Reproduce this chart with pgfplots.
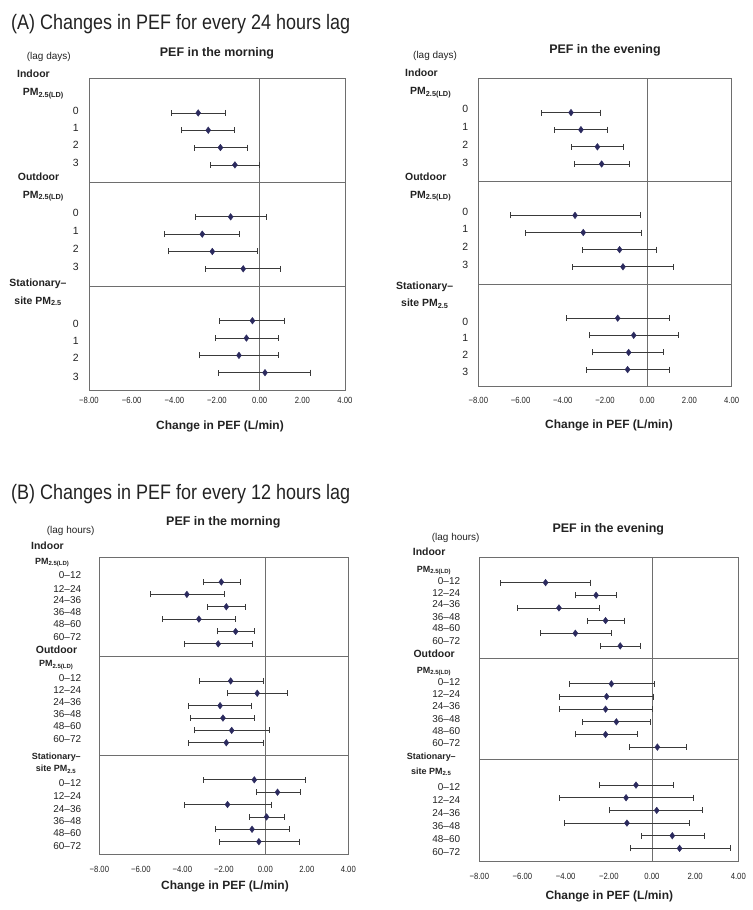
\documentclass[border=0pt]{standalone}
\usepackage{pgfplots}
\pgfplotsset{compat=1.18}
\usepackage{pgfplotstable}
\usepackage{fontspec}
\setmainfont{Liberation Sans}
\usepackage{graphicx}
\newcommand\fs[1]{\fontsize{#1}{#1}\selectfont}
\newcommand\sq[1]{\scalebox{0.86}[1]{#1}}
\definecolor{mk}{HTML}{2B2A5E}
\definecolor{eb}{HTML}{3A3A3A}
\definecolor{fr}{HTML}{6E6E6E}
\definecolor{tx}{HTML}{222222}

% y = row position, x = estimate, lo/hi = 95% CI
\pgfplotstableread{
y x lo hi
0 -2.88 -4.14 -1.59
1 -2.41 -3.67 -1.19
2 -1.84 -3.05 -0.59
3 -1.16 -2.33 -0.03
6 -1.36 -3.02 0.31
7 -2.69 -4.48 -0.94
8 -2.22 -4.28 -0.11
9 -0.77 -2.53 0.98
12 -0.34 -1.91 1.17
13 -0.62 -2.09 0.89
14 -0.97 -2.81 0.89
15 0.25 -1.94 2.39
}\AL
\pgfplotstableread{
y x lo hi
0 -3.61 -5.02 -2.22
1 -3.14 -4.38 -1.89
2 -2.36 -3.61 -1.12
3 -2.16 -3.45 -0.85
6 -3.42 -6.48 -0.33
7 -3.03 -5.77 -0.29
8 -1.31 -3.09 0.43
9 -1.15 -3.53 1.22
12 -1.40 -3.83 1.06
13 -0.64 -2.74 1.49
14 -0.88 -2.60 0.78
15 -0.93 -2.88 1.06
}\AR
\pgfplotstableread{
y x lo hi
0 -2.12 -3.00 -1.20
1 -3.78 -5.53 -1.96
2 -1.88 -2.81 -0.96
3 -3.20 -4.96 -1.43
4 -1.43 -2.33 -0.53
5 -2.27 -3.89 -0.61
8 -1.67 -3.18 -0.10
9 -0.39 -1.83 1.06
10 -2.18 -3.69 -0.67
11 -2.04 -3.60 -0.51
12 -1.62 -3.44 0.22
13 -1.88 -3.69 -0.08
16 -0.53 -2.99 1.93
17 0.59 -0.45 1.69
18 -1.82 -3.92 0.29
19 0.06 -0.79 0.93
20 -0.64 -2.39 1.16
21 -0.31 -2.22 1.62
}\BL
\pgfplotstableread{
y x lo hi
0 -4.93 -7.03 -2.86
1 -2.59 -3.55 -1.65
2 -4.31 -6.22 -2.44
3 -2.15 -3.01 -1.30
4 -3.55 -5.17 -1.88
5 -1.47 -2.38 -0.54
8 -1.88 -3.85 0.11
9 -2.10 -4.28 0.06
10 -2.15 -4.31 0.03
11 -1.65 -3.21 -0.08
12 -2.15 -3.55 -0.68
13 0.25 -1.07 1.59
16 -0.74 -2.44 0.97
17 -1.20 -4.31 1.90
18 0.22 -1.96 2.35
19 -1.16 -4.06 1.71
20 0.94 -0.51 2.42
21 1.28 -1.00 3.61
}\BR

\pgfplotsset{
 forest/.style={
  scale only axis, y dir=reverse, xmin=-8, xmax=4,
  axis line style={fr, line width=0.8bp},
  xtick={-8,-6,-4,-2,0,2,4},
  xticklabels={\sq{−8.00},\sq{−6.00},\sq{−4.00},\sq{−2.00},\sq{0.00},\sq{2.00},\sq{4.00}},
  major tick length=0pt,
  every tick/.style={draw=none},
  xticklabel style={font=\fs{9}, text=tx, anchor=center, inner sep=0pt},
  yticklabel style={font=\fs{10.5}, text=tx, anchor=mid east, inner sep=0pt, xshift=-10bp},
 },
 refline/.style={fr, line width=0.8bp, forget plot},
 ebplot/.style={only marks, mark=diamond*, mark size=3.3bp,
  mark options={fill=mk, draw=mk},
  error bars/x dir=both, error bars/x explicit,
  error bars/error bar style={eb, line width=0.75bp},
  error bars/error mark options={eb, line width=0.75bp, mark size=3bp, rotate=90}},
}
\newcommand\eb[1]{\addplot[ebplot] table[x=x, y=y,
  x error plus expr=\thisrow{hi}-\thisrow{x},
  x error minus expr=\thisrow{x}-\thisrow{lo}] {#1};}

\begin{document}
\begin{tikzpicture}[every node/.style={text=tx}]
\path[use as bounding box] (0,0) rectangle (753bp,-910bp);

% ---------- (A) left ----------
\begin{axis}[forest, at={(89bp,-78.3bp)}, anchor=north west,
  width=256bp, height=311.7bp, ymin=-2, ymax=16,
  ytick={-0.06,0.91,1.9,2.95,5.8,6.84,7.88,8.93,12.23,13.2,14.2,15.3},
  yticklabels={0,1,2,3,0,1,2,3,0,1,2,3},
  xticklabel style={yshift=-10bp}]
\addplot[refline] coordinates {(-8,4) (4,4)};
\addplot[refline] coordinates {(-8,10) (4,10)};
\addplot[refline] coordinates {(0,-2) (0,16)};
\eb{\AL}
\end{axis}

% ---------- (A) right ----------
\begin{axis}[forest, at={(478.3bp,-78.3bp)}, anchor=north west,
  width=253.4bp, height=308.4bp, ymin=-2, ymax=16,
  ytick={-0.14,0.9,1.94,2.99,5.87,6.83,7.9,8.94,12.3,13.23,14.18,15.21},
  yticklabels={0,1,2,3,0,1,2,3,0,1,2,3},
  xticklabel style={yshift=-13.3bp}]
\addplot[refline] coordinates {(-8,4) (4,4)};
\addplot[refline] coordinates {(-8,10) (4,10)};
\addplot[refline] coordinates {(0,-2) (0,16)};
\eb{\AR}
\end{axis}

% ---------- (B) left ----------
\begin{axis}[forest, at={(99.3bp,-557.3bp)}, anchor=north west,
  width=249bp, height=296.7bp, ymin=-2, ymax=22,
  ytick={-0.51,0.62,1.51,2.46,3.48,4.49,7.83,8.78,9.77,10.74,11.74,12.77,16.36,17.36,18.41,19.40,20.40,21.41},
  yticklabels={0–12,12–24,24–36,36–48,48–60,60–72,0–12,12–24,24–36,36–48,48–60,60–72,0–12,12–24,24–36,36–48,48–60,60–72},
  yticklabel style={font=\fs{10}, xshift=-8bp},
  xticklabel style={yshift=-15.3bp}]
\addplot[refline] coordinates {(-8,6) (4,6)};
\addplot[refline] coordinates {(-8,14) (4,14)};
\addplot[refline] coordinates {(0,-2) (0,22)};
\eb{\BL}
\end{axis}

% ---------- (B) right ----------
\begin{axis}[forest, at={(479.3bp,-557.3bp)}, anchor=north west,
  width=259bp, height=303.7bp, ymin=-2, ymax=22,
  ytick={-0.05,0.86,1.78,2.75,3.69,4.66,7.89,8.85,9.82,10.82,11.78,12.73,16.21,17.26,18.28,19.30,20.30,21.34},
  yticklabels={0–12,12–24,24–36,36–48,48–60,60–72,0–12,12–24,24–36,36–48,48–60,60–72,0–12,12–24,24–36,36–48,48–60,60–72},
  yticklabel style={font=\fs{10}, xshift=-9bp},
  xticklabel style={yshift=-15.7bp}]
\addplot[refline] coordinates {(-8,6) (4,6)};
\addplot[refline] coordinates {(-8,14) (4,14)};
\addplot[refline] coordinates {(0,-2) (0,22)};
\eb{\BR}
\end{axis}

% ---------- Titles ----------
\node[anchor=base west, font=\fs{21}, inner sep=0pt] at (11bp,-29.3bp) {\sq{(A) Changes in PEF for every 24 hours lag}};
\node[anchor=base west, font=\fs{21}, inner sep=0pt] at (11bp,-499.3bp) {\sq{(B) Changes in PEF for every 12 hours lag}};

\begin{scope}[every node/.append style={inner sep=0pt}]
% subtitles
\node[font=\fs{12.5}\bfseries] at (217bp,-53.3bp) {PEF in the morning};
\node[font=\fs{12.5}\bfseries] at (605bp,-50.7bp) {PEF in the evening};
\node[font=\fs{12.5}\bfseries] at (223.3bp,-522.3bp) {PEF in the morning};
\node[font=\fs{12.5}\bfseries] at (608.3bp,-529.3bp) {PEF in the evening};
% x labels
\node[font=\fs{12}\bfseries] at (220bp,-426.7bp) {Change in PEF (L/min)};
\node[font=\fs{12}\bfseries] at (609bp,-425.7bp) {Change in PEF (L/min)};
\node[font=\fs{12}\bfseries] at (225bp,-886.7bp) {Change in PEF (L/min)};
\node[font=\fs{12}\bfseries] at (609.3bp,-896.7bp) {Change in PEF (L/min)};

% ---- group headers A left
\node[anchor=mid west, font=\fs{10}] at (26.7bp,-57.3bp) {(lag days)};
\node[anchor=mid west, font=\fs{10.5}\bfseries] at (17bp,-75bp) {Indoor};
\node[anchor=mid west, font=\fs{10.5}\bfseries] at (22.7bp,-93.3bp) {PM\textsubscript{2.5(LD)}};
\node[anchor=mid west, font=\fs{10.5}\bfseries] at (17.7bp,-177.7bp) {Outdoor};
\node[anchor=mid west, font=\fs{10.5}\bfseries] at (22.7bp,-195.7bp) {PM\textsubscript{2.5(LD)}};
\node[anchor=mid west, font=\fs{10.5}\bfseries] at (9.3bp,-284.3bp) {Stationary–};
\node[anchor=mid west, font=\fs{10.5}\bfseries] at (14.3bp,-301.7bp) {site PM\textsubscript{2.5}};
% ---- group headers A right
\node[anchor=mid west, font=\fs{10}] at (413bp,-56bp) {(lag days)};
\node[anchor=mid west, font=\fs{10.5}\bfseries] at (405bp,-74bp) {Indoor};
\node[anchor=mid west, font=\fs{10.5}\bfseries] at (410bp,-92.3bp) {PM\textsubscript{2.5(LD)}};
\node[anchor=mid west, font=\fs{10.5}\bfseries] at (405bp,-178.3bp) {Outdoor};
\node[anchor=mid west, font=\fs{10.5}\bfseries] at (410bp,-195.7bp) {PM\textsubscript{2.5(LD)}};
\node[anchor=mid west, font=\fs{10.5}\bfseries] at (396bp,-287.3bp) {Stationary–};
\node[anchor=mid west, font=\fs{10.5}\bfseries] at (401bp,-304.3bp) {site PM\textsubscript{2.5}};
% ---- group headers B left
\node[anchor=mid west, font=\fs{10}] at (46.7bp,-530.7bp) {(lag hours)};
\node[anchor=mid west, font=\fs{10.5}\bfseries] at (31bp,-546.7bp) {Indoor};
\node[anchor=mid west, font=\fs{9}\bfseries] at (35bp,-561.7bp) {PM\textsubscript{2.5(LD)}};
\node[anchor=mid west, font=\fs{10.5}\bfseries] at (35.7bp,-650.7bp) {Outdoor};
\node[anchor=mid west, font=\fs{9}\bfseries] at (39bp,-664.3bp) {PM\textsubscript{2.5(LD)}};
\node[anchor=mid west, font=\fs{9}\bfseries] at (31.7bp,-756.7bp) {Stationary–};
\node[anchor=mid west, font=\fs{9}\bfseries] at (35.7bp,-769.3bp) {site PM\textsubscript{2.5}};
% ---- group headers B right
\node[anchor=mid west, font=\fs{10}] at (431.7bp,-538.3bp) {(lag hours)};
\node[anchor=mid west, font=\fs{10.5}\bfseries] at (412.7bp,-553.3bp) {Indoor};
\node[anchor=mid west, font=\fs{9}\bfseries] at (416.7bp,-570bp) {PM\textsubscript{2.5(LD)}};
\node[anchor=mid west, font=\fs{10.5}\bfseries] at (413.3bp,-655bp) {Outdoor};
\node[anchor=mid west, font=\fs{9}\bfseries] at (416.7bp,-671bp) {PM\textsubscript{2.5(LD)}};
\node[anchor=mid west, font=\fs{9}\bfseries] at (406.7bp,-757.3bp) {Stationary–};
\node[anchor=mid west, font=\fs{9}\bfseries] at (411bp,-771.7bp) {site PM\textsubscript{2.5}};
\end{scope}
\end{tikzpicture}
\end{document}
